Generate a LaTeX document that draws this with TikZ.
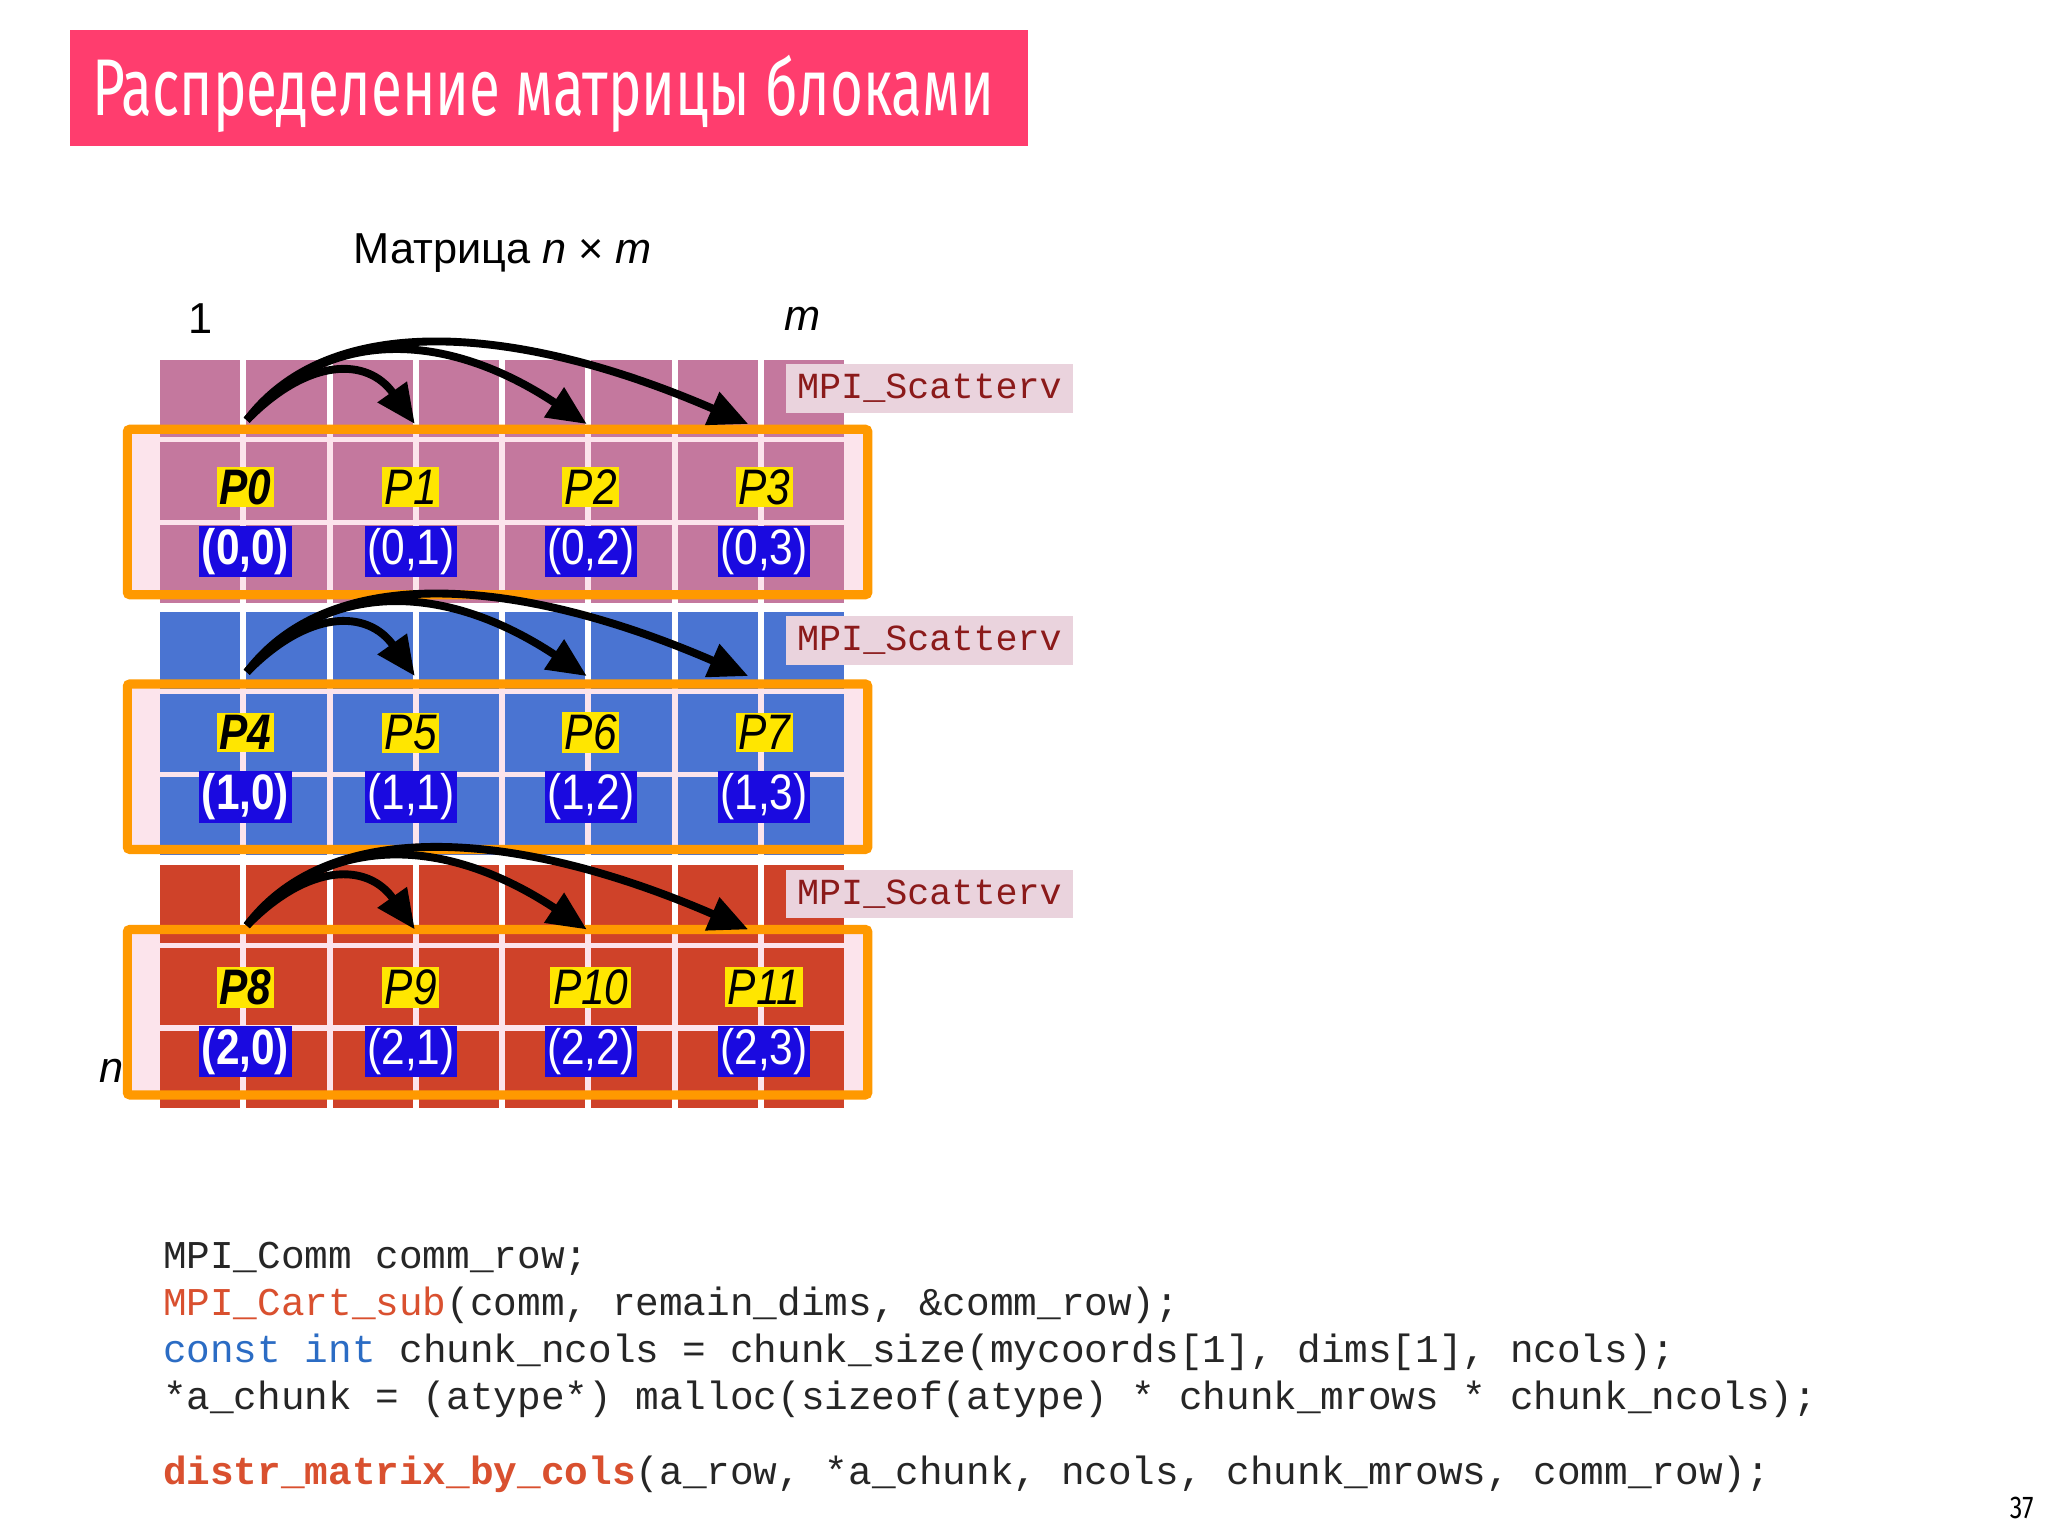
\documentclass[tikz,border=0pt]{standalone}
\usepackage{fontspec}
\setmainfont{Liberation Sans}
\newfontfamily\titlefont{Fira Sans}
\newfontfamily\codefont{Liberation Mono}
\usetikzlibrary{arrows.meta}
\definecolor{titlepink}{HTML}{FF3D6E}
\definecolor{orng}{HTML}{FF9900}
\definecolor{lpink}{HTML}{FCE4EC}
\definecolor{cpink}{HTML}{C4789E}
\definecolor{cblue}{HTML}{4A74D2}
\definecolor{cred}{HTML}{CF4229}
\definecolor{pyel}{HTML}{FFE600}
\definecolor{cbox}{HTML}{1A0AE0}
\definecolor{mpibg}{HTML}{EAD3DD}
\definecolor{mpitx}{HTML}{8B1A1A}
\definecolor{codered}{HTML}{D9502F}
\definecolor{codeblue}{HTML}{2B6CC4}
\tikzset{
  plabel/.style={fill=pyel,inner sep=2pt,font=\fontsize{38}{40}\selectfont\itshape,text=black},
  clabel/.style={fill=cbox,inner sep=2pt,font=\fontsize{38}{40}\selectfont,text=white},
  mpi/.style={fill=mpibg,inner sep=0pt,minimum width=219pt,minimum height=37pt,font=\codefont\fontsize{28}{30}\selectfont,text=mpitx},
  code/.style={anchor=base west,inner sep=0pt,font=\codefont\fontsize{30}{32}\selectfont,text=black!85},
  arr/.style={line width=6pt,-{Triangle[length=30pt,width=26pt]}},
}
\begin{document}
\begin{tikzpicture}[x=1pt,y=-1pt]
\useasboundingbox[fill=white] (0,0) rectangle (1560,1170);
% title
\fill[titlepink] (53,23) rectangle (783,111);
\node[anchor=base west,inner sep=0pt,text=white] (title) at (70,88)
  {\resizebox{687pt}{46pt}{\titlefont Распределение матрицы блоками}};
\node[font=\fontsize{33}{36}\selectfont] (mat) at (383,193) {Матрица \textit{n} × \textit{m}};
\node[font=\fontsize{33}{36}\selectfont] (one) at (153,243) {1};
\node[font=\fontsize{33}{36}\selectfont\itshape] (em) at (611,243) {m};
\node[font=\fontsize{33}{36}\selectfont\itshape] (en) at (85,816) {n};
\foreach \b/\off/\col/\bo in {0/0/cpink/0, 1/192/cblue/194, 2/385/cred/381}{
  \fill[lpink] (97,327+\bo) rectangle (661,453+\bo);
  \foreach \i in {0,...,7}{
    \foreach \r in {0,1,2}{
      \fill[\col] ({122+65.7*\i},{274+\off+63*\r}) rectangle ++(61,59);
    }
  }
  \draw[orng,line width=7pt,rounded corners=2pt] (97,327+\bo) rectangle (661,453+\bo);
  \node[mpi] (mpi\b) at (708,{296+\off}) {MPI\_Scatterv};
  \coordinate (s\b) at (188,{320+\off});
  \coordinate (t\b a) at (316,{323+\off});
  \coordinate (t\b b) at (447,{323+\off});
  \coordinate (t\b c) at (570,{323+\off});
  \draw[arr] (s\b) .. controls (235,{272+\off}) and (280,{272+\off}) .. (t\b a);
  \draw[arr] (s\b) .. controls (250,{248+\off}) and (340,{252+\off}) .. (t\b b);
  \draw[arr] (s\b) .. controls (250,{238+\off}) and (390,{245+\off}) .. (t\b c);
}
% labels
\foreach \b/\yo in {0/0,1/187,2/381}{
  \foreach \c/\x in {0/187,1/313,2/450,3/582}{
    \pgfmathtruncatemacro{\pn}{4*\b+\c}
    \ifnum\c=0
      \node[plabel] (p\pn) at (\x,371+\yo) {\scalebox{0.85}[1]{\bfseries P\pn}};
      \node[clabel] (c\pn) at (\x,420+\yo) {\scalebox{0.85}[1]{\bfseries(\b,\c)}};
    \else
      \node[plabel] (p\pn) at (\x,371+\yo) {\scalebox{0.85}[1]{P\pn}};
      \node[clabel] (c\pn) at (\x,420+\yo) {\scalebox{0.85}[1]{(\b,\c)}};
    \fi
  }
}
% code
\node[code] (l1) at (124,966) {MPI\_Comm comm\_row;};
\node[code] (l2) at (124,1002) {\textcolor{codered}{MPI\_Cart\_sub}(comm, remain\_dims, \&comm\_row);};
\node[code] (l3) at (124,1038) {\textcolor{codeblue}{const int} chunk\_ncols = chunk\_size(mycoords[1], dims[1], ncols);};
\node[code] (l4) at (124,1074) {*a\_chunk = (atype*) malloc(sizeof(atype) * chunk\_mrows * chunk\_ncols);};
\node[code] (l5) at (124,1131) {\textcolor{codered}{\bfseries distr\_matrix\_by\_cols}(a\_row, *a\_chunk, ncols, chunk\_mrows, comm\_row);};
\node[anchor=base,inner sep=0pt,font=\titlefont\fontsize{24}{26}\selectfont] (pg) at (1540,1157) {\scalebox{0.8}[1]{37}};
\end{tikzpicture}
\end{document}
